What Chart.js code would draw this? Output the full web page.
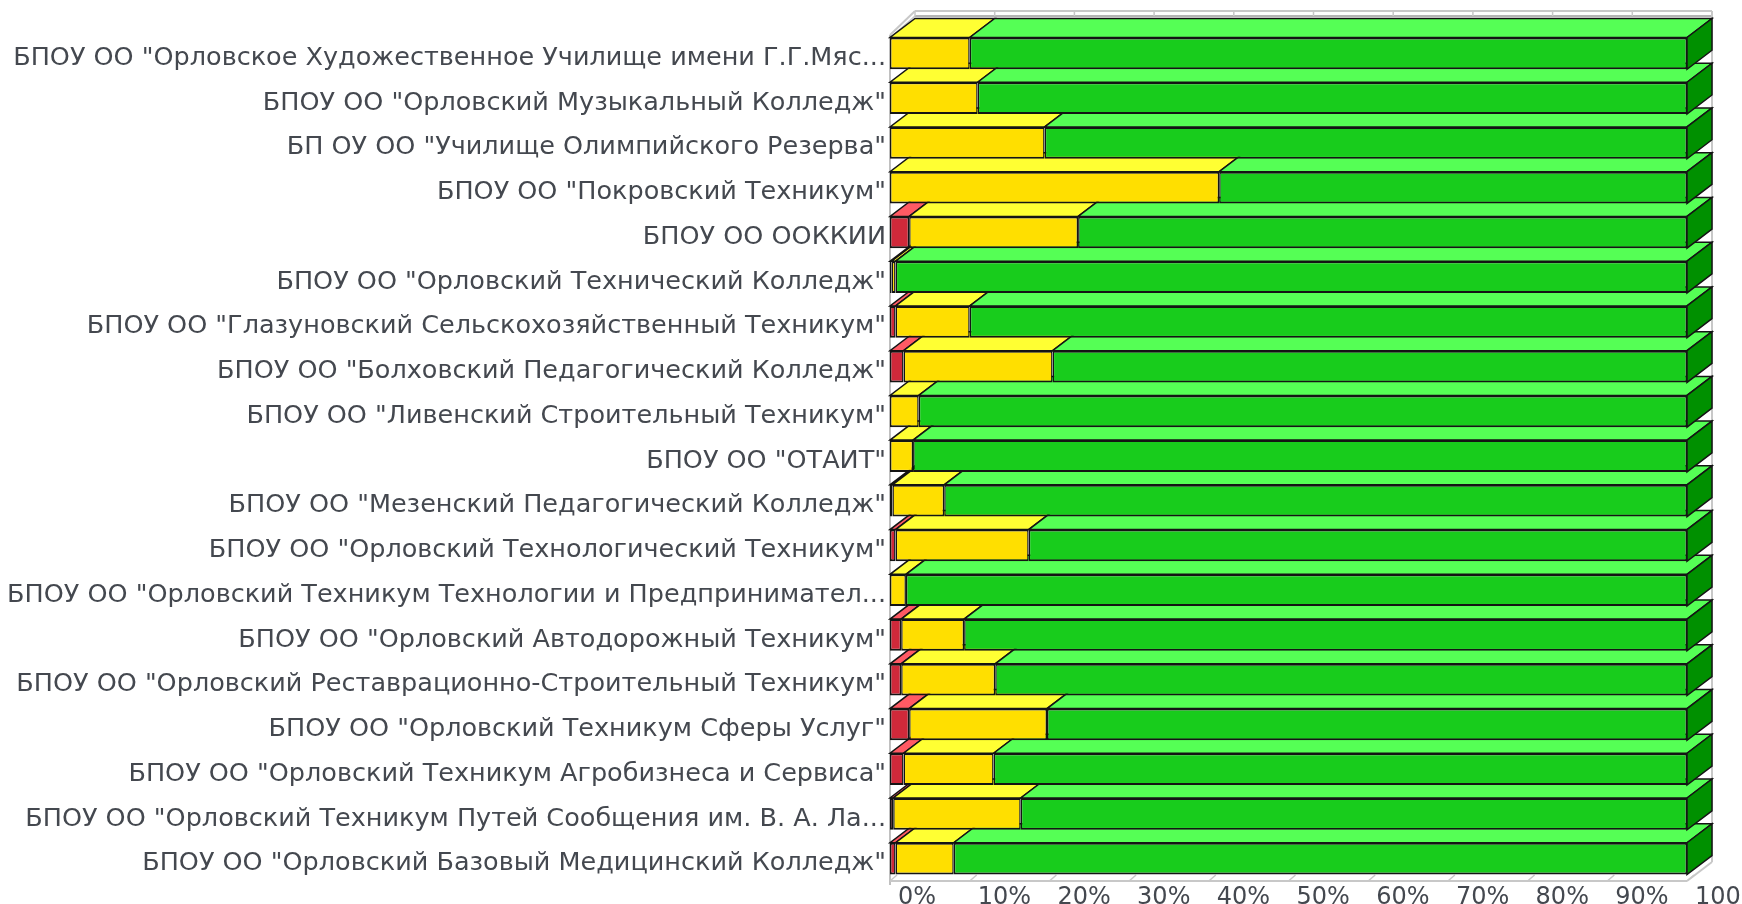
<!DOCTYPE html>
<html>
<head>
<meta charset="utf-8">
<script src="https://cdn.jsdelivr.net/npm/chart.js@4"></script>
<style>
html, body { margin: 0; padding: 0; background: #fff; overflow: hidden; }
canvas { display: block; filter: blur(0.6px); }
</style>
</head>
<body>
<canvas id="chart" width="1742" height="904"></canvas>
<script>
const categories = [
    'БПОУ ОО "Орловское Художественное Училище имени Г.Г.Мяс...',
    'БПОУ ОО "Орловский Музыкальный Колледж"',
    'БП ОУ ОО "Училище Олимпийского Резерва"',
    'БПОУ ОО "Покровский Техникум"',
    'БПОУ ОО ООККИИ',
    'БПОУ ОО "Орловский Технический Колледж"',
    'БПОУ ОО "Глазуновский Сельскохозяйственный Техникум"',
    'БПОУ ОО "Болховский Педагогический Колледж"',
    'БПОУ ОО "Ливенский Строительный Техникум"',
    'БПОУ ОО "ОТАИТ"',
    'БПОУ ОО "Мезенский Педагогический Колледж"',
    'БПОУ ОО "Орловский Технологический Техникум"',
    'БПОУ ОО "Орловский Техникум Технологии и Предпринимател...',
    'БПОУ ОО "Орловский Автодорожный Техникум"',
    'БПОУ ОО "Орловский Реставрационно-Строительный Техникум"',
    'БПОУ ОО "Орловский Техникум Сферы Услуг"',
    'БПОУ ОО "Орловский Техникум Агробизнеса и Сервиса"',
    'БПОУ ОО "Орловский Техникум Путей Сообщения им. В. А. Ла...',
    'БПОУ ОО "Орловский Базовый Медицинский Колледж"'
];
const redValues = [0, 0, 0, 0, 2.4, 0.2, 0.7, 1.7, 0, 0, 0.3, 0.7, 0, 1.4, 1.4, 2.4, 1.7, 0.4, 0.7];
const yellowValues = [10, 11, 19.4, 41.3, 21.2, 0.5, 9.3, 18.7, 3.6, 2.9, 6.5, 16.7, 2, 7.9, 11.8, 17.3, 11.3, 16, 7.3];
const greenValues = [90, 89, 80.6, 58.7, 76.4, 99.3, 90, 79.6, 96.4, 97.1, 93.2, 82.6, 98, 90.7, 86.8, 80.3, 87, 83.6, 92];

const outline = '#141414';
const depthX = 25;
const depthY = 19;
const topColors = ['#ff5a64', '#ffff33', '#55ff55'];
const sideColor = '#009000';

function face(ctx, pts, fill) {
    ctx.beginPath();
    ctx.moveTo(pts[0][0], pts[0][1]);
    pts.slice(1).forEach(p => ctx.lineTo(p[0], p[1]));
    ctx.closePath();
    ctx.fillStyle = fill;
    ctx.fill();
    ctx.lineWidth = 1.5;
    ctx.strokeStyle = outline;
    ctx.stroke();
}

function seg(ctx, x1, y1, x2, y2, color, w) {
    ctx.beginPath();
    ctx.moveTo(x1, y1);
    ctx.lineTo(x2, y2);
    ctx.lineWidth = w || 1.5;
    ctx.strokeStyle = color;
    ctx.stroke();
}

// back wall, left wall and floor of the fake 3d box
const box3d = {
    id: 'box3d',
    beforeDatasetsDraw(chart) {
        const ctx = chart.ctx;
        const x = chart.scales.x;
        const area = chart.chartArea;
        const left = area.left, right = area.right, bottom = area.bottom;
        const topY = 11, wallY = 16, wallTop = 35;
        ctx.save();
        seg(ctx, left + depthX, topY, right + depthX, topY, '#c8c8c8', 2);
        seg(ctx, left + depthX, wallY, right + depthX, wallY, '#b4b4b4', 2);
        seg(ctx, right + depthX, topY, right + depthX, bottom - depthY, '#c8c8c8', 2);
        seg(ctx, left, wallTop, left + depthX, topY, '#c8c8c8', 2);
        seg(ctx, left, wallTop + 3, left + depthX, wallY, '#c8c8c8', 1.5);
        seg(ctx, left, wallTop, left, bottom + 4, '#c0c0c0', 2);
        seg(ctx, left, bottom, right, bottom, '#c8c8c8', 2);
        seg(ctx, right, bottom, right + depthX, bottom - depthY, '#c8c8c8', 2);
        for (let v = 0; v <= 100; v += 10) {
            const px = x.getPixelForValue(v);
            seg(ctx, px + depthX, topY, px + depthX, wallY, '#c8c8c8', 1.5);
            seg(ctx, px, bottom, px + 7, bottom - 6, '#c8c8c8', 1.5);
        }
        // bars from the bottom row up, so every row covers the one below
        for (let i = categories.length - 1; i >= 0; i--) {
            chart.data.datasets.forEach((ds, d) => {
                const bar = chart.getDatasetMeta(d).data[i];
                const p = bar.getProps(['x', 'y', 'base', 'height'], true);
                if (Math.abs(p.x - p.base) < 0.5) return;
                const y0 = p.y - p.height / 2;
                const y1 = p.y + p.height / 2;
                face(ctx, [[p.base, y0], [p.x, y0], [p.x + depthX, y0 - depthY], [p.base + depthX, y0 - depthY]], topColors[d]);
                if (d === 2) {
                    face(ctx, [[p.x, y0], [p.x + depthX, y0 - depthY], [p.x + depthX, y1 - depthY], [p.x, y1]], sideColor);
                }
            });
        }
        ctx.restore();
    }
};

new Chart(document.getElementById('chart'), {
    type: 'bar',
    data: {
        labels: categories,
        datasets: [
            { label: 'red', data: redValues, backgroundColor: '#d0293a' },
            { label: 'yellow', data: yellowValues, backgroundColor: '#ffdf00' },
            { label: 'green', data: greenValues, backgroundColor: '#18cc1c' }
        ]
    },
    plugins: [box3d],
    options: {
        responsive: false,
        animation: false,
        indexAxis: 'y',
        layout: { padding: { top: 31, right: 55, bottom: 0, left: 0 } },
        datasets: {
            bar: {
                barPercentage: 0.71,
                categoryPercentage: 1,
                borderColor: outline,
                borderWidth: { top: 2, bottom: 2, left: 1.5, right: 1.5 },
                borderSkipped: false
            }
        },
        plugins: {
            legend: { display: false },
            tooltip: { enabled: false }
        },
        scales: {
            x: {
                stacked: true,
                min: 0,
                max: 100,
                afterFit: s => { s.height = 23; s.paddingLeft = 0; s.paddingRight = 0; },
                grid: { display: false, drawTicks: false },
                border: { display: false },
                ticks: {
                    stepSize: 10,
                    autoSkip: false,
                    maxRotation: 0,
                    align: 'start',
                    labelOffset: 8,
                    padding: 2,
                    color: '#44484f',
                    font: { family: '"DejaVu Sans"', size: 24 },
                    callback: v => v + '%'
                }
            },
            y: {
                stacked: true,
                afterFit: s => { s.width = 890; },
                grid: { display: false, drawTicks: false },
                border: { display: false },
                ticks: {
                    autoSkip: false,
                    padding: 4,
                    labelOffset: 5,
                    color: '#44484f',
                    font: { family: '"DejaVu Sans"', size: 25.5 }
                }
            }
        }
    }
});
</script>
</body>
</html>
